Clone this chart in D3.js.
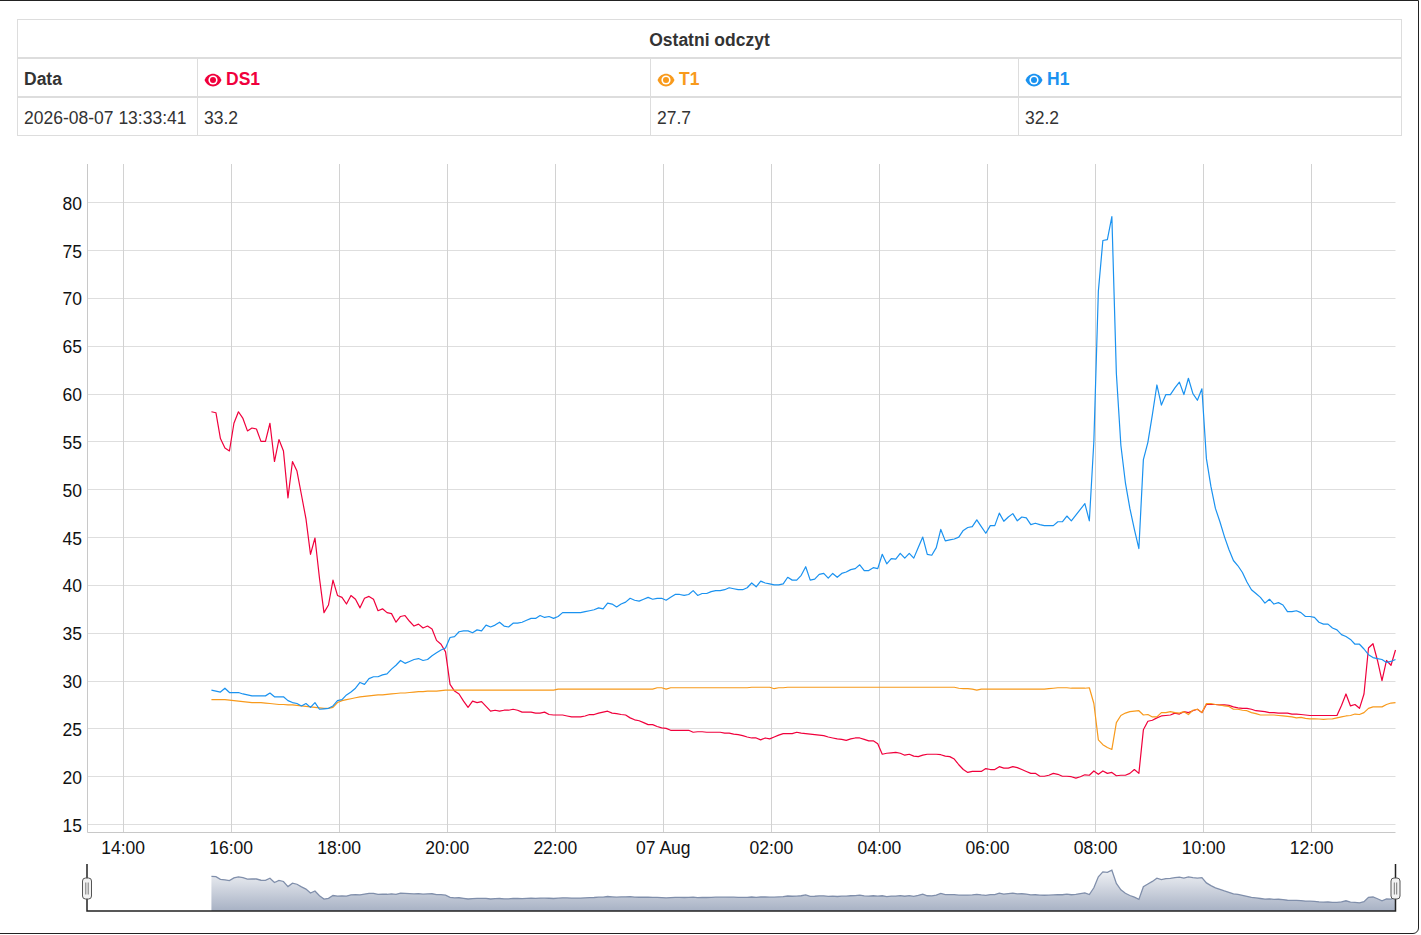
<!DOCTYPE html>
<html>
<head>
<meta charset="utf-8">
<script src="https://cdn.jsdelivr.net/npm/d3@7"></script>
<style>
  body { margin: 0; background: #fff; font-family: "Liberation Sans", Arial, sans-serif; color: #333; }
  #frame { position: absolute; left: -1px; top: 0; width: 1420px; height: 934px; box-sizing: border-box;
           border: 1px solid #222; border-radius: 0 0 6px 0; }
  #last { position: absolute; left: 17px; top: 19px; width: 1384px; border-collapse: collapse;
          table-layout: fixed; font-size: 17.5px; background: #fff; }
  #last th, #last td { border: 1px solid #ddd; padding: 3px 6px 0 6px; height: 34px; text-align: left; white-space: nowrap; }
  #last thead th { border-bottom-width: 2px; }
  #last th.title { text-align: center; }
  #last svg { vertical-align: -2px; margin-right: 4px; }
  #chart { position: absolute; left: 0; top: 0; }
</style>
</head>
<body>
<div id="frame"></div>
<svg id="chart" width="1421" height="935"></svg>
<table id="last"></table>
<script>
// last 24h of readings, one sample every 5 minutes
var startTime = "2026-08-06T15:38:41";
var stepMinutes = 5;
var lastReading = "2026-08-07 13:33:41";

var seriesNames = ["DS1", "T1", "H1"];
var seriesColors = ["#f0003c", "#f89a1c", "#1a92f0"];

var ds1Values = [
  58.1, 58.0, 55.3, 54.3, 54.0, 56.9, 58.1, 57.4, 56.1, 56.4,
  56.3, 55.0, 55.0, 56.9, 52.9, 55.2, 54.0, 49.1, 52.9, 51.9,
  49.4, 46.9, 43.2, 44.9, 40.7, 37.1, 37.9, 40.5, 38.9, 38.7,
  38.0, 38.9, 38.5, 37.6, 38.6, 38.8, 38.5, 37.3, 37.5, 37.1,
  37.0, 36.1, 36.7, 36.8, 36.2, 35.7, 35.9, 35.5, 35.7, 35.4,
  34.2, 33.8, 33.0, 29.6, 28.9, 28.6, 27.85, 27.2, 27.85, 27.7,
  27.8, 27.3, 26.8, 26.9, 26.8, 26.9, 26.9, 27.0, 26.9, 26.7,
  26.7, 26.7, 26.6, 26.6, 26.7, 26.45, 26.4, 26.4, 26.4, 26.3,
  26.2, 26.2, 26.2, 26.3, 26.45, 26.45, 26.6, 26.7, 26.8, 26.6,
  26.55, 26.45, 26.4, 26.1, 25.9, 25.8, 25.6, 25.4, 25.4, 25.2,
  25.05, 25.0, 24.8, 24.8, 24.8, 24.8, 24.8, 24.6, 24.65, 24.65,
  24.6, 24.6, 24.6, 24.6, 24.5, 24.5, 24.4, 24.35, 24.25, 24.1,
  24.0, 24.0, 23.8, 24.0, 23.9, 24.1, 24.3, 24.45, 24.45, 24.45,
  24.6, 24.5, 24.45, 24.4, 24.35, 24.3, 24.25, 24.1, 24.0, 23.9,
  23.85, 23.75, 23.9, 24.0, 24.0, 23.85, 23.7, 23.7, 23.4, 22.3,
  22.4, 22.45, 22.5, 22.4, 22.2, 22.3, 22.1, 22.05, 22.2, 22.3,
  22.3, 22.3, 22.25, 22.1, 22.05, 21.8, 21.2, 20.7, 20.4, 20.5,
  20.5, 20.5, 20.8, 20.7, 20.7, 21.0, 20.85, 20.85, 21.0, 20.9,
  20.7, 20.5, 20.3, 20.3, 20.0, 20.0, 20.1, 20.3, 20.2, 20.0,
  20.0, 19.95, 19.8, 19.95, 20.15, 20.1, 20.55, 20.2, 20.55, 20.3,
  20.4, 20.05, 20.1, 20.1, 20.3, 20.7, 20.3, 24.85, 25.75, 25.85,
  26.1, 26.3, 26.35, 26.4, 26.6, 26.5, 26.75, 26.65, 26.85, 27.0,
  26.65, 27.5, 27.5, 27.5, 27.45, 27.45, 27.4, 27.25, 27.15, 27.1,
  27.1, 27.0, 26.85, 26.8, 26.75, 26.65, 26.65, 26.6, 26.6, 26.6,
  26.5, 26.5, 26.45, 26.4, 26.35, 26.35, 26.35, 26.35, 26.35, 26.35,
  26.35, 27.4, 28.6, 27.35, 27.5, 27.1, 28.6, 33.4, 33.85, 32.1,
  30.0, 32.1, 31.6, 33.2
];

var t1Values = [
  28.0, 28.0, 28.0, 28.0, 27.95, 27.9, 27.85, 27.8, 27.75, 27.7,
  27.7, 27.7, 27.65, 27.6, 27.55, 27.5, 27.5, 27.45, 27.45, 27.4,
  27.35, 27.3, 27.25, 27.2, 27.15, 27.1, 27.1, 27.2, 27.7, 27.9,
  28.0, 28.1, 28.2, 28.3, 28.35, 28.4, 28.45, 28.5, 28.5, 28.55,
  28.6, 28.65, 28.7, 28.7, 28.75, 28.8, 28.85, 28.85, 28.9, 28.9,
  28.9, 28.95, 29.0, 29.0, 29.0, 29.0, 29.0, 29.0, 29.0, 29.0,
  29.0, 29.0, 29.0, 29.0, 29.0, 29.0, 29.0, 29.0, 29.0, 29.0,
  29.0, 29.0, 29.0, 29.0, 29.0, 29.0, 29.0, 29.1, 29.1, 29.1,
  29.1, 29.1, 29.1, 29.1, 29.1, 29.1, 29.1, 29.1, 29.1, 29.1,
  29.1, 29.1, 29.1, 29.1, 29.1, 29.1, 29.1, 29.1, 29.1, 29.25,
  29.25, 29.1, 29.25, 29.25, 29.25, 29.25, 29.25, 29.25, 29.25, 29.25,
  29.25, 29.25, 29.25, 29.25, 29.25, 29.25, 29.25, 29.25, 29.25, 29.25,
  29.3, 29.3, 29.3, 29.3, 29.3, 29.15, 29.25, 29.25, 29.3, 29.3,
  29.3, 29.3, 29.3, 29.3, 29.3, 29.3, 29.3, 29.3, 29.3, 29.3,
  29.3, 29.3, 29.3, 29.3, 29.3, 29.3, 29.3, 29.3, 29.3, 29.3,
  29.3, 29.3, 29.3, 29.3, 29.3, 29.3, 29.3, 29.3, 29.3, 29.3,
  29.3, 29.3, 29.3, 29.3, 29.3, 29.3, 29.2, 29.15, 29.15, 29.1,
  29.0, 29.1, 29.1, 29.1, 29.1, 29.1, 29.1, 29.1, 29.1, 29.1,
  29.1, 29.1, 29.1, 29.1, 29.1, 29.1, 29.15, 29.2, 29.25, 29.25,
  29.25, 29.2, 29.2, 29.2, 29.2, 29.25, 27.6, 23.8, 23.3, 23.0,
  22.8, 25.6, 26.35, 26.6, 26.75, 26.8, 26.85, 26.4, 26.45, 26.2,
  26.2, 26.65, 26.65, 26.75, 26.65, 26.6, 26.75, 26.45, 26.9, 27.0,
  26.65, 27.6, 27.6, 27.5, 27.45, 27.35, 27.3, 27.0, 27.0, 26.9,
  26.85, 26.65, 26.55, 26.4, 26.4, 26.4, 26.4, 26.35, 26.3, 26.25,
  26.2, 26.1, 26.15, 26.05, 26.0, 26.0, 25.98, 25.95, 25.98, 26.0,
  26.1, 26.2, 26.3, 26.35, 26.5, 26.45, 26.65, 27.1, 27.25, 27.25,
  27.25, 27.5, 27.65, 27.7
];

var h1Values = [
  29.0, 28.9, 28.8, 29.2, 28.75, 28.75, 28.75, 28.6, 28.5, 28.4,
  28.4, 28.4, 28.4, 28.7, 28.3, 28.3, 28.3, 27.9, 27.7, 27.6,
  27.35, 27.6, 27.2, 27.7, 27.0, 27.05, 27.1, 27.35, 27.9, 28.0,
  28.5, 28.8, 29.2, 29.8, 29.6, 30.2, 30.4, 30.4, 30.6, 30.7,
  31.2, 31.6, 32.1, 31.8, 32.0, 32.2, 32.3, 32.1, 32.2, 32.6,
  32.9, 33.2, 33.4, 34.5, 34.6, 35.1, 35.2, 35.2, 35.0, 35.3,
  35.2, 35.8, 35.6, 35.8, 36.1, 35.7, 35.6, 36.0, 36.0, 36.1,
  36.3, 36.5, 36.5, 36.8, 36.6, 36.7, 36.5, 36.7, 37.1, 37.1,
  37.1, 37.1, 37.1, 37.2, 37.3, 37.4, 37.6, 37.5, 38.1, 38.0,
  37.7, 38.0, 38.2, 38.6, 38.4, 38.3, 38.5, 38.7, 38.5, 38.6,
  38.6, 38.4, 38.7, 39.0, 39.0, 38.9, 39.0, 39.4, 38.9, 39.1,
  39.1, 39.3, 39.4, 39.4, 39.5, 39.7, 39.6, 39.5, 39.5, 39.7,
  40.2, 39.8, 40.4, 40.2, 40.1, 40.0, 40.0, 40.1, 40.8, 40.5,
  40.5, 41.0, 41.9, 40.5, 40.6, 41.1, 41.2, 40.7, 41.2, 40.8,
  41.2, 41.35, 41.6, 41.7, 42.1, 41.5, 41.5, 41.8, 41.7, 43.2,
  42.2, 42.75, 42.7, 43.3, 42.8, 43.3, 42.8, 43.9, 45.0, 43.2,
  43.1, 43.9, 45.8, 44.6, 44.7, 44.8, 45.0, 45.7, 46.0, 46.1,
  46.8, 46.1, 45.4, 46.2, 46.2, 47.5, 46.65, 47.1, 47.45, 46.7,
  47.1, 47.0, 46.3, 46.45, 46.3, 46.2, 46.2, 46.2, 46.6, 46.6,
  47.2, 46.7, 47.3, 47.9, 48.5, 46.7, 55.0, 70.7, 76.0, 76.1,
  78.5, 62.1, 54.6, 50.7, 48.0, 45.8, 43.8, 53.1, 54.9, 57.8,
  60.9, 58.8, 59.9, 59.9, 60.6, 61.2, 59.9, 61.6, 60.0, 59.3,
  60.5, 53.2, 50.3, 48.0, 46.6, 45.05, 43.7, 42.55, 42.0, 41.3,
  40.3, 39.5, 39.1, 38.7, 38.1, 38.5, 38.0, 38.15, 37.9, 37.2,
  37.2, 37.3, 37.1, 36.7, 36.7, 36.6, 36.1, 35.9, 35.9, 35.5,
  35.3, 34.8, 34.6, 34.3, 33.8, 33.8, 33.3, 32.7, 32.4, 32.3,
  32.2, 31.9, 32.0, 32.2
];

var xDomain = ["2026-08-06T13:20:30", "2026-08-07T13:33:41"];
var xTickTimes = ["2026-08-06T14:00:00", "2026-08-06T16:00:00", "2026-08-06T18:00:00", "2026-08-06T20:00:00",
                  "2026-08-06T22:00:00", "2026-08-07T00:00:00", "2026-08-07T02:00:00", "2026-08-07T04:00:00",
                  "2026-08-07T06:00:00", "2026-08-07T08:00:00", "2026-08-07T10:00:00", "2026-08-07T12:00:00"];
var xTickLabels = ["14:00", "16:00", "18:00", "20:00", "22:00", "07 Aug", "02:00", "04:00", "06:00", "08:00", "10:00", "12:00"];
var yDomain = [14.17, 84.0];
var yTicks = [15, 20, 25, 30, 35, 40, 45, 50, 55, 60, 65, 70, 75, 80];

var allSeries = [ds1Values, t1Values, h1Values];

var parseTime = d3.timeParse("%Y-%m-%dT%H:%M:%S");
var t0 = parseTime(startTime);
var times = ds1Values.map(function(d, i) { return d3.timeMinute.offset(t0, i * stepMinutes); });

// ---- last reading table
var eyePath = "M-8.5,0 C-5,-8.5 5,-8.5 8.5,0 C5,8.5 -5,8.5 -8.5,0 Z";
function eye(color) {
  return '<svg width="18" height="14" viewBox="-9 -7 18 14"><path d="' + eyePath + '" fill="' + color + '"/>' +
         '<circle r="4.6" fill="#fff"/><circle r="3" fill="' + color + '"/></svg>';
}
var table = d3.select("#last");
var colgroup = table.append("colgroup");
[180, 453, 368, 383].forEach(function(w) { colgroup.append("col").style("width", w + "px"); });
var thead = table.append("thead");
thead.append("tr").append("th").attr("colspan", 4).attr("class", "title").text("Ostatni odczyt");
var hr = thead.append("tr");
hr.append("th").text("Data");
seriesNames.forEach(function(n, i) {
  hr.append("th").style("color", seriesColors[i]).html(eye(seriesColors[i]) + n);
});
var br = table.append("tbody").append("tr");
br.append("td").text(lastReading);
allSeries.forEach(function(s) { br.append("td").text(s[s.length - 1].toFixed(1)); });

// ---- main plot
var svg = d3.select("#chart");
var plotLeft = 87, plotRight = 1395.5, plotTop = 164, plotBottom = 832;
var x = d3.scaleTime().domain(xDomain.map(parseTime)).range([plotLeft, plotRight]);
var y = d3.scaleLinear().domain(yDomain).range([plotBottom, plotTop]);

var grid = svg.append("g");
grid.selectAll(".hg").data(yTicks).enter().append("line")
  .attr("x1", plotLeft).attr("x2", plotRight)
  .attr("y1", function(d) { return Math.round(y(d)) + 0.5; })
  .attr("y2", function(d) { return Math.round(y(d)) + 0.5; })
  .attr("stroke", "#dedede");
grid.selectAll(".vg").data(xTickTimes).enter().append("line")
  .attr("y1", plotTop).attr("y2", plotBottom)
  .attr("x1", function(d) { return Math.round(x(parseTime(d))) + 0.5; })
  .attr("x2", function(d) { return Math.round(x(parseTime(d))) + 0.5; })
  .attr("stroke", "#d2d2d2");

svg.append("path")
  .attr("d", "M" + (plotLeft + 0.5) + "," + plotTop + "V" + (plotBottom + 0.5) + "H" + plotRight)
  .attr("fill", "none").attr("stroke", "#c8c8c8");

var xAxis = svg.append("g").attr("transform", "translate(0," + plotBottom + ")")
  .call(d3.axisBottom(x).tickValues(xTickTimes.map(parseTime))
    .tickFormat(function(d, i) { return xTickLabels[i]; }).tickSize(0).tickPadding(10));
var yAxis = svg.append("g").attr("transform", "translate(" + (plotLeft - 5) + ",0)")
  .call(d3.axisLeft(y).tickValues(yTicks).tickSize(0).tickPadding(0));
[xAxis, yAxis].forEach(function(a) {
  a.select(".domain").remove();
  a.selectAll("text").attr("fill", "#111").style("font-size", "17.5px")
    .style("font-family", '"Liberation Sans", Arial, sans-serif');
});
yAxis.selectAll("text").attr("dy", "0.4em");

var line = d3.line()
  .x(function(d, i) { return x(times[i]); })
  .y(function(d) { return y(d); });
allSeries.forEach(function(s, k) {
  svg.append("path").datum(s)
    .attr("d", line)
    .attr("fill", "none")
    .attr("stroke", seriesColors[k])
    .attr("stroke-width", 1.2)
    .attr("stroke-linejoin", "round");
});

// ---- range selector (average of all series)
var combined = times.map(function(t, i) { return (ds1Values[i] + t1Values[i] + h1Values[i]) / 3; });
var cMin = d3.min(combined), cMax = d3.max(combined), pad = (cMax - cMin) * 0.25;
var navTop = 862, navBottom = 911;
var yNav = d3.scaleLinear().domain([cMin - pad, cMax + pad]).range([navBottom, navTop]);

var grad = svg.append("defs").append("linearGradient").attr("id", "navFill")
  .attr("gradientUnits", "userSpaceOnUse")
  .attr("x1", 0).attr("x2", 0)
  .attr("y1", navTop).attr("y2", navBottom);
grad.append("stop").attr("offset", 0).attr("stop-color", "#ffffff");
grad.append("stop").attr("offset", 1).attr("stop-color", "#a7b1c4");

svg.append("path").datum(combined)
  .attr("d", d3.area().x(function(d, i) { return x(times[i]); }).y0(navBottom).y1(function(d) { return yNav(d); }))
  .attr("fill", "url(#navFill)");
svg.append("path").datum(combined)
  .attr("d", d3.line().x(function(d, i) { return x(times[i]); }).y(function(d) { return yNav(d); }))
  .attr("fill", "none").attr("stroke", "#808fab").attr("stroke-width", 1.3);

svg.append("path")
  .attr("d", "M" + plotLeft + "," + (navTop + 2) + "V" + navBottom + "H" + plotRight + "V" + (navTop + 2))
  .attr("fill", "none").attr("stroke", "#222").attr("stroke-width", 1.5);

[plotLeft, plotRight].forEach(function(hx) {
  var h = svg.append("g").attr("transform", "translate(" + hx + "," + 888.5 + ")");
  h.append("rect").attr("x", -4.5).attr("y", -10.5).attr("width", 9).attr("height", 21).attr("rx", 3)
    .attr("fill", "#f2f2f2").attr("stroke", "#555").attr("stroke-width", 1);
  h.append("line").attr("x1", -1.2).attr("x2", -1.2).attr("y1", -6).attr("y2", 6).attr("stroke", "#777");
  h.append("line").attr("x1", 1.2).attr("x2", 1.2).attr("y1", -6).attr("y2", 6).attr("stroke", "#777");
});
</script>
</body>
</html>
